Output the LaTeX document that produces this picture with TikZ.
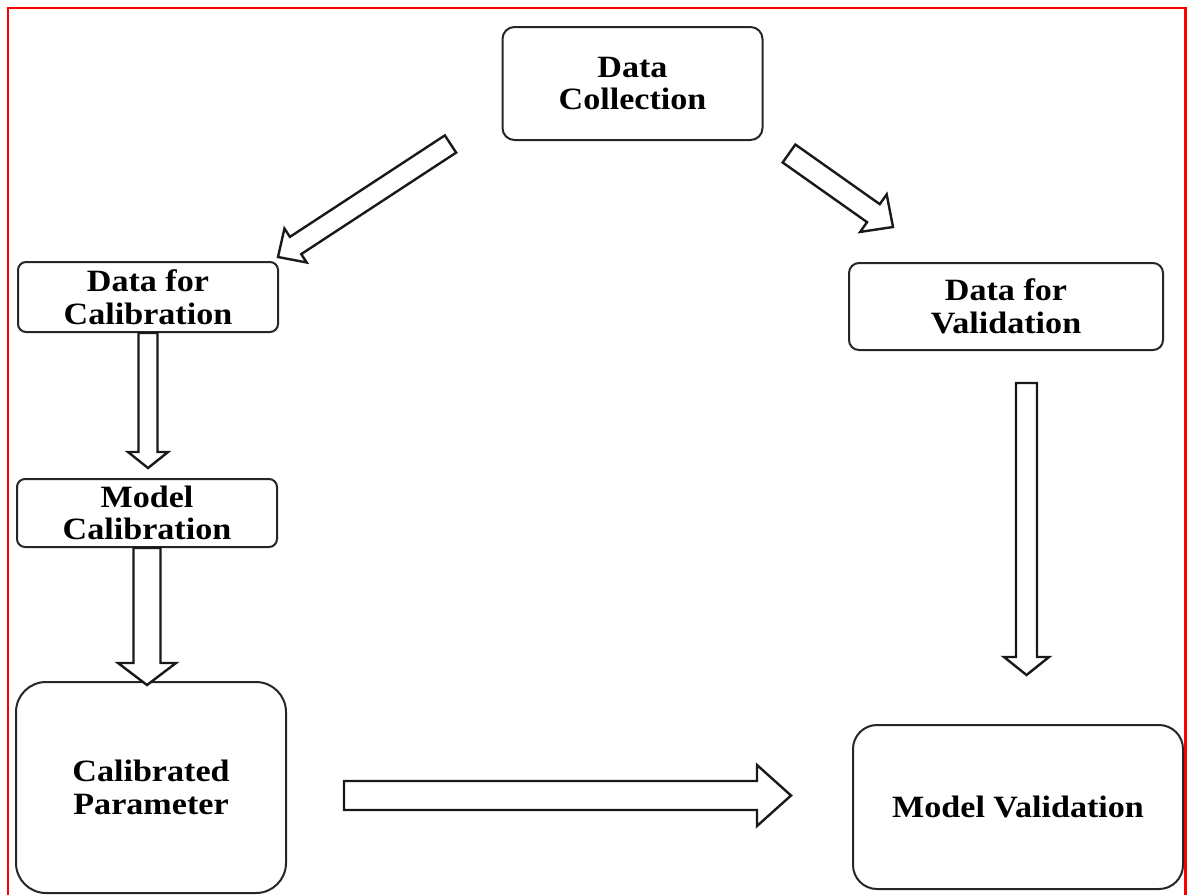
\documentclass[tikz,border=0pt]{standalone}
\usepackage{fontspec}
\setmainfont{Liberation Serif}[FakeStretch=1.1]
\usetikzlibrary{calc}

\tikzset{
  box/.style={draw=black!85, line width=1pt, fill=white, align=center,
    inner sep=0pt, text=black,
    font=\fontsize{15.5}{16.3}\selectfont\bfseries},
  blockarr/.style={draw=black!90, line width=1.2pt, fill=white, line join=miter},
  frameline/.style={draw=red, line width=1.2pt},
}

% hollow block arrow: #1 tail centre, #2 tip, #3 shaft width, #4 head width, #5 head length (px)
\newcommand\blockarrow[5]{%
  \coordinate (#1-#2-h) at ($(#2)!#5*0.5pt!(#1)$);
  \draw[blockarr]
    ($(#1)!#3*0.25pt!90:(#2)$) -- ($(#1-#2-h)!#3*0.25pt!90:(#2)$)
    -- ($(#1-#2-h)!#4*0.25pt!90:(#2)$) -- (#2)
    -- ($(#1-#2-h)!#4*0.25pt!-90:(#2)$) -- ($(#1-#2-h)!#3*0.25pt!-90:(#2)$)
    -- ($(#1)!#3*0.25pt!-90:(#2)$) -- cycle;
}

\begin{document}
\begin{tikzpicture}[x=0.5pt, y=-0.5pt]
\useasboundingbox (0,0) rectangle (1187,895);

% page frame
\draw[frameline] (8,895) -- (8,8) -- (1185.5,8) -- (1185.5,895);

% boxes
\node[box, rounded corners=6pt, minimum width=130pt, minimum height=56.5pt]
  (dc) at (632.5,83.5) {Data\\Collection};
\node[box, rounded corners=4pt, minimum width=130pt, minimum height=35pt]
  (dcal) at (148,297) {Data for\\Calibration};
\node[box, rounded corners=4pt, minimum width=130pt, minimum height=34pt]
  (mcal) at (147,513) {Model\\Calibration};
\node[box, rounded corners=15pt, minimum width=135pt, minimum height=105.5pt]
  (cp) at (151,787.5) {Calibrated\\Parameter};
\node[box, rounded corners=5pt, minimum width=157pt, minimum height=43.5pt]
  (dval) at (1006,306.5) {Data for\\Validation};
\node[box, rounded corners=12pt, minimum width=165pt, minimum height=82pt]
  (mval) at (1018,807) {Model Validation};

% arrow ends
\coordinate (t1) at (450.5,144);   \coordinate (p1) at (278,257);
\coordinate (t2) at (789,153.5);   \coordinate (p2) at (893,227);
\coordinate (t3) at (dcal.south);  \coordinate (p3) at (148,468);
\coordinate (t4) at (mcal.south);  \coordinate (p4) at (147,685);
\coordinate (t5) at (1026.5,383);  \coordinate (p5) at (1026.5,675);
\coordinate (t6) at (344,795.5);   \coordinate (p6) at (791,795.5);

% arrows
\blockarrow{t1}{p1}{20.6}{40.6}{21}
\blockarrow{t2}{p2}{22}{46}{24}
\blockarrow{t3}{p3}{19}{40}{16}
\blockarrow{t4}{p4}{27}{58}{22}
\blockarrow{t5}{p5}{21}{45}{18}
\blockarrow{t6}{p6}{29}{61}{34}
\end{tikzpicture}
\end{document}
